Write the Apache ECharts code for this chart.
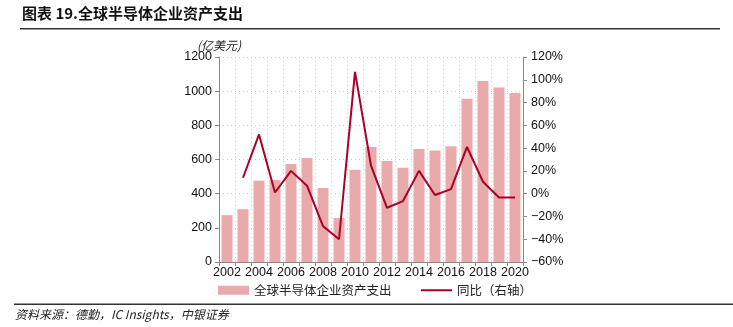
<!DOCTYPE html>
<html><head><meta charset="utf-8">
<script src="https://cdn.jsdelivr.net/npm/echarts@6/dist/echarts.min.js"></script>
<style>html,body{margin:0;padding:0;background:#fff;}#c{width:733px;height:327px;}</style>
</head><body><div id="c"></div>
<script>
const years = ['2002','2003','2004','2005','2006','2007','2008','2009','2010','2011','2012','2013','2014','2015','2016','2017','2018','2019','2020'];
const capex = [274, 309, 476, 480, 574, 609, 433, 258, 540, 673, 591, 552, 662, 652, 677, 955, 1059, 1022, 990];
const yoy = [null, 14, 52, 1, 20, 7, -28.5, -40, 107, 24.6, -12.4, -6.5, 20, -1.2, 4, 41, 10.5, -3.3, -3.3];
const leftTicks = {min: 0, max: 1200, step: 200};
const rightTicks = {min: -60, max: 120, step: 20};
const barName = '全球半导体企业资产支出';
const lineName = '同比（右轴）';

const chart = echarts.init(document.getElementById('c'));
const numFont = 'Liberation Sans, Arial, sans-serif';
const cjkFont = '"Noto Sans CJK SC", sans-serif';
const legendText = {fontFamily: cjkFont, fontSize: 12.5, color: '#222'};
chart.setOption({
  animation: false,
  grid: {left: 219, right: 210, top: 57, bottom: 65},
  legend: [{
    left: 213, top: 279, itemWidth: 31, itemHeight: 9,
    textStyle: legendText,
    data: [{name: barName, icon: 'rect'}]
  }, {
    left: 416, top: 279, itemWidth: 31, itemHeight: 2,
    textStyle: legendText,
    data: [{name: lineName, icon: 'rect'}]
  }],
  xAxis: {
    type: 'category', data: years, boundaryGap: true,
    axisLine: {lineStyle: {color: '#888'}},
    axisTick: {show: true, interval: 0, alignWithLabel: false, length: 4, lineStyle: {color: '#888'}},
    axisLabel: {interval: 1, color: '#111', fontFamily: numFont, fontSize: 12.5, margin: 4},
    splitLine: {show: true, interval: 0, lineStyle: {color: '#ccc', type: [1, 3]}}
  },
  yAxis: [{
    type: 'value', min: leftTicks.min, max: leftTicks.max, interval: leftTicks.step,
    axisLine: {show: true, lineStyle: {color: '#888'}},
    axisTick: {show: true, length: 4, lineStyle: {color: '#888'}},
    axisLabel: {color: '#111', fontFamily: numFont, fontSize: 12.5, margin: 7, formatter: v => String(v)},
    splitLine: {show: true, lineStyle: {color: '#ccc', type: [1, 3]}}
  }, {
    type: 'value', min: rightTicks.min, max: rightTicks.max, interval: rightTicks.step,
    axisLine: {show: true, lineStyle: {color: '#888'}},
    axisTick: {show: true, length: 4, lineStyle: {color: '#888'}},
    axisLabel: {color: '#111', fontFamily: numFont, fontSize: 12.5, margin: 8,
      formatter: v => (v < 0 ? '\u2212' + Math.abs(v) : v) + '%'},
    splitLine: {show: false}
  }],
  series: [{
    name: barName, type: 'bar', data: capex, barWidth: 11,
    itemStyle: {color: '#E8AAAA'}
  }, {
    name: lineName, type: 'line', yAxisIndex: 1, data: yoy, symbol: 'none',
    lineStyle: {color: '#A8002A', width: 2}, itemStyle: {color: '#A8002A'}
  }],
  graphic: [
    {type: 'text', left: 22, top: 6, style: {text: '图表 19.全球半导体企业资产支出', font: 'bold 15px ' + cjkFont, fill: '#111'}},
    {type: 'rect', shape: {x: 20, y: 28, width: 700, height: 1.5}, style: {fill: '#333'}},
    {type: 'text', left: 197, top: 39, style: {text: '(亿美元)', font: 'italic 12px ' + cjkFont, fill: '#222'}},
    {type: 'rect', shape: {x: 14, y: 303.5, width: 719, height: 1.5}, style: {fill: '#333'}},
    {type: 'text', left: 15, top: 308, style: {text: '资料来源：德勤，IC Insights，中银证券', font: 'italic 12px ' + cjkFont, fill: '#222'}}
  ]
});
</script></body></html>
